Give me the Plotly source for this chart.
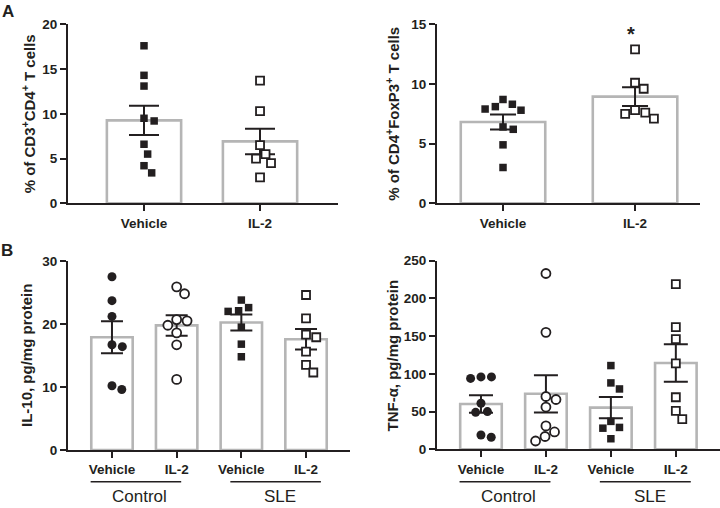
import math
import numpy as np
import plotly.graph_objects as go

# ---------------- data ----------------
cats_top = ["Vehicle", "IL-2"]
cats_bottom = ["Vehicle", "IL-2", "Vehicle", "IL-2"]
groups_bottom = ["Control", "SLE"]

cd4_vehicle = [17.6, 14.3, 13.1, 9.5, 9.2, 6.6, 5.5, 4.2, 3.4]
cd4_il2 = [13.7, 10.3, 6.5, 5.5, 5.0, 4.5, 2.9]

treg_vehicle = [8.7, 8.3, 8.1, 7.9, 7.8, 6.4, 6.2, 4.9, 3.0]
treg_il2 = [12.9, 10.1, 9.6, 7.8, 7.6, 7.5, 7.1]

il10_ctrl_vehicle = [27.5, 23.7, 21.2, 16.7, 16.4, 10.2, 9.6]
il10_ctrl_il2 = [25.9, 24.8, 20.7, 20.5, 19.8, 18.6, 16.7, 11.2]
il10_sle_vehicle = [23.8, 22.6, 22.1, 22.0, 19.5, 16.8, 14.8]
il10_sle_il2 = [24.6, 20.9, 18.3, 17.9, 15.6, 13.5, 12.3]

tnf_ctrl_vehicle = [96, 96, 94, 61, 50, 49, 19, 16]
tnf_ctrl_il2 = [233, 155, 70, 66, 56, 31, 23, 17, 11]
tnf_sle_vehicle = [111, 88, 80, 37, 29, 28, 14]
tnf_sle_il2 = [219, 162, 146, 114, 69, 51, 40]

y_titles = ["% of CD3<sup>+</sup>CD4<sup>+</sup> T cells",
            "% of CD4<sup>+</sup>FoxP3<sup>+</sup> T cells",
            "IL-10, pg/mg protein",
            "TNF-α, pg/mg protein"]

# ---------------- style ----------------
INK = "#231f20"
BARLINE = "#b5b5b5"
FONT = "Liberation Sans, Arial, Helvetica, sans-serif"
W, H = 720, 508


def px_dom(a, b, total):
    return [a / total, b / total]


def py_dom(top, bottom):
    return [1 - bottom / H, 1 - top / H]


def swarm(values, ppu_y, ppu_x, d):
    """Simple beeswarm: returns x offsets (category units)."""
    placed = []
    xs = [0.0] * len(values)
    order = sorted(range(len(values)), key=lambda i: -values[i])
    for i in order:
        y = values[i] * ppu_y
        cands = [0.0]
        for (px, py) in placed:
            dy = abs(py - y)
            if dy < d:
                dx = math.sqrt(d * d - dy * dy)
                cands += [px + dx, px - dx]
        valid = [c for c in cands
                 if all((c - px) ** 2 + (y - py) ** 2 >= d * d - 1e-6 for px, py in placed)]
        if not valid:
            valid = [max(abs(p[0]) for p in placed) + d]
        best = min(valid, key=lambda c: (round(abs(c), 6), -c))
        placed.append((best, y))
        xs[i] = best / ppu_x
    return xs


# panel geometry (pixels)
panels = {
    "1": dict(x=(68, 338), y=(24.3, 203.3), xr=[-0.655, 1.672], yr=[0, 20], dtick=5,
              title=y_titles[0], tx=28.5, cap=15),
    "2": dict(x=(437, 700), y=(24.3, 203.3), xr=[-0.5, 1.492], yr=[0, 15], dtick=5,
              title=y_titles[1], tx=393, cap=13),
    "3": dict(x=(68, 350), y=(261, 450), xr=[-0.68, 3.68], yr=[0, 30], dtick=10,
              title=y_titles[2], tx=26.5, cap=11),
    "4": dict(x=(437, 720), y=(260.7, 449.3), xr=[-0.677, 3.68], yr=[0, 250], dtick=50,
              title=y_titles[3], tx=391.5, cap=12),
}

panel_data = {
    "1": ([cd4_vehicle, cd4_il2], cats_top, ["fsq", "osq"]),
    "2": ([treg_vehicle, treg_il2], cats_top, ["fsq", "osq"]),
    "3": ([il10_ctrl_vehicle, il10_ctrl_il2, il10_sle_vehicle, il10_sle_il2], cats_bottom,
          ["fci", "oci", "fsq", "osq"]),
    "4": ([tnf_ctrl_vehicle, tnf_ctrl_il2, tnf_sle_vehicle, tnf_sle_il2], cats_bottom,
          ["fci", "oci", "fsq", "osq"]),
}

marker_styles = {
    "fsq": dict(symbol="square", size=7.5, color=INK, line=dict(width=0)),
    "osq": dict(symbol="square", size=8, color="white", line=dict(color=INK, width=1.8)),
    "fci": dict(symbol="circle", size=9, color=INK, line=dict(width=0)),
    "oci": dict(symbol="circle", size=9, color="white", line=dict(color=INK, width=1.8)),
}

fig = go.Figure()
layout = dict(template="none", width=W, height=H, margin=dict(l=0, r=0, t=0, b=0, pad=0),
              paper_bgcolor="white", plot_bgcolor="white", showlegend=False,
              font=dict(family=FONT, color=INK), hovermode=False)

tickfont = dict(family=FONT, size=13.5, color=INK, weight="bold")
titlefont = dict(family=FONT, size=15, color=INK, weight="bold")

# bars first (so they are drawn under the points)
for k, p in panels.items():
    series, cats, kinds = panel_data[k]
    xs = list(range(len(series)))
    means = [float(np.mean(s)) for s in series]
    sems = [float(np.std(s, ddof=1) / math.sqrt(len(s))) for s in series]
    xa = "x" if k == "1" else "x" + k
    ya = "y" if k == "1" else "y" + k
    fig.add_trace(go.Bar(
        x=xs, y=means, width=0.64, xaxis=xa, yaxis=ya,
        marker=dict(color="white", line=dict(color=BARLINE, width=2.6)),
        error_y=dict(type="data", array=sems, visible=True, color=INK, thickness=2,
                     width=p["cap"])))

annotations = []
for k, p in panels.items():
    series, cats, kinds = panel_data[k]
    xa = "x" if k == "1" else "x" + k
    ya = "y" if k == "1" else "y" + k
    wpx = p["x"][1] - p["x"][0]
    hpx = p["y"][1] - p["y"][0]
    ppu_x = wpx / (p["xr"][1] - p["xr"][0])
    ppu_y = hpx / (p["yr"][1] - p["yr"][0])
    for i, (s, kind) in enumerate(zip(series, kinds)):
        offs = swarm(s, ppu_y, ppu_x, 10.5)
        fig.add_trace(go.Scatter(
            x=[i + o for o in offs], y=s, mode="markers", xaxis=xa, yaxis=ya,
            marker=marker_styles[kind], cliponaxis=False))

    xkey = "xaxis" if k == "1" else "xaxis" + k
    ykey = "yaxis" if k == "1" else "yaxis" + k
    layout[xkey] = dict(domain=px_dom(p["x"][0], p["x"][1], W), range=p["xr"], anchor=ya,
                        tickvals=list(range(len(cats))), ticktext=cats, automargin=False,
                        showline=True, linecolor=INK, linewidth=2, ticks="outside",
                        ticklen=6, tickwidth=2, tickcolor=INK, showgrid=False,
                        zeroline=False, tickfont=tickfont, fixedrange=True)
    layout[ykey] = dict(domain=py_dom(p["y"][0], p["y"][1]), range=p["yr"], anchor=xa,
                        dtick=p["dtick"], tick0=0, automargin=False,
                        showline=True, linecolor=INK, linewidth=2, ticks="outside",
                        ticklen=6, tickwidth=2, tickcolor=INK, showgrid=False,
                        zeroline=False, tickfont=tickfont, fixedrange=True)
    annotations.append(dict(text=p["title"], textangle=-90, xref="paper", yref="paper",
                            x=p["tx"] / W, y=1 - (p["y"][0] + p["y"][1]) / 2 / H,
                            xanchor="center", yanchor="middle", showarrow=False,
                            font=titlefont))

annotations += [
    dict(text="A", x=8 / W, y=1 - 12 / H, xref="paper", yref="paper", showarrow=False,
         xanchor="center", yanchor="middle",
         font=dict(family=FONT, size=17, color=INK, weight="bold")),
    dict(text="B", x=7 / W, y=1 - 250 / H, xref="paper", yref="paper", showarrow=False,
         xanchor="center", yanchor="middle",
         font=dict(family=FONT, size=17, color=INK, weight="bold")),
    dict(text="*", x=0.97, y=14.2, xref="x2", yref="y2", showarrow=False, yanchor="middle",
         font=dict(family=FONT, size=20, color=INK, weight="bold")),
]
shapes = []
for xa in ["x3", "x4"]:
    for (g, x0, x1, xt) in zip(groups_bottom, [-0.33, 1.83], [1.07, 3.23], [0.42, 2.6]):
        shapes.append(dict(type="line", xref=xa, yref="paper", x0=x0, x1=x1,
                           y0=1 - 481.7 / H, y1=1 - 481.7 / H,
                           line=dict(color=INK, width=1.5)))
        annotations.append(dict(text=g, x=xt, y=1 - 496 / H, xref=xa, yref="paper",
                                showarrow=False, yanchor="middle",
                                font=dict(family=FONT, size=17, color=INK)))

layout["annotations"] = annotations
layout["shapes"] = shapes
fig.update_layout(**layout)
fig.write_html(
    "out.html",
    config={"displayModeBar": False, "staticPlot": True},
    post_script="document.body.style.margin='0';document.body.style.padding='0';"
                "document.body.style.overflow='hidden';",
)
